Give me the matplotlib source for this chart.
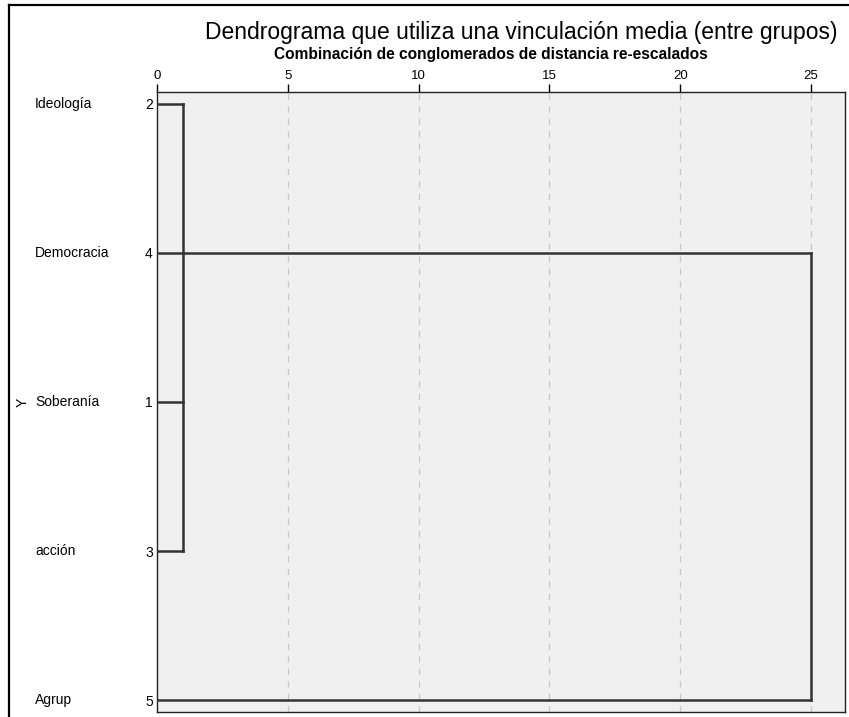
import matplotlib
matplotlib.use("Agg")
import matplotlib.pyplot as plt
from matplotlib.lines import Line2D

plt.rcParams['font.family'] = ['Liberation Sans', 'DejaVu Sans']

# rows from top to bottom
labels = ["Ideología", "Democracia", "Soberanía", "acción", "Agrup"]
case_numbers = [2, 4, 1, 3, 5]

# merges: children (leaf rows 0-4, merged nodes 5+), rescaled distance, row of new node
merge_children = [[0, 1, 2, 3], [5, 4]]
merge_heights = [1.0, 25.0]
merge_rows = [1, 1]

x_ticks = [0, 5, 10, 15, 20, 25]

fig = plt.figure(figsize=(8.49, 7.17), dpi=100)
ax = fig.add_axes([157 / 849, 1 - 712 / 717, (845 - 157) / 849, (712 - 92) / 717])
ax.set_facecolor('#f0f0f0')

# node positions (row, x start)
node_y = {i: float(i) for i in range(len(labels))}
node_x = {i: 0.0 for i in range(len(labels))}
line_kw = dict(color='#333333', lw=1.8, solid_capstyle='projecting', zorder=3)
for k, (children, h) in enumerate(zip(merge_children, merge_heights)):
    ys = []
    for c in children:
        ax.plot([node_x[c], h], [node_y[c], node_y[c]], **line_kw)
        ys.append(node_y[c])
    ax.plot([h, h], [min(ys), max(ys)], **line_kw)
    new_id = len(labels) + k
    node_y[new_id] = float(merge_rows[k])
    node_x[new_id] = h

# grid
for t in x_ticks[1:]:
    ax.axvline(t, color='#c8c8c8', lw=0.9, ls=(0, (5, 5)), zorder=1)

ax.set_xlim(0, 26.3)
ax.set_ylim(len(labels) - 1 + 0.08, -0.08)
ax.xaxis.tick_top()
ax.set_xticks(x_ticks)
ax.set_xticklabels([str(t) for t in x_ticks])
ax.tick_params(axis='x', direction='out', length=6, width=1, pad=1, labelsize=9.5, colors='black')
ax.set_yticks(range(len(labels)))
ax.set_yticklabels([str(n) for n in case_numbers])
ax.tick_params(axis='y', length=0, pad=3, labelsize=10)
for s in ax.spines.values():
    s.set_color('#222222')
    s.set_linewidth(1.0)

for i, name in enumerate(labels):
    ax.annotate(name, xy=(35 / 849, i), xycoords=('figure fraction', 'data'),
                ha='left', va='center', fontsize=10)

fig.text(23 / 849, 1 - 402 / 717, "Y", rotation=90, ha='center', va='center', fontsize=10)

fig.text(521 / 849, 1 - 33 / 717, "Dendrograma que utiliza una vinculación media (entre grupos)",
         ha='center', va='center', fontsize=16.5)
fig.text(491 / 849, 1 - 54 / 717, "Combinación de conglomerados de distancia re-escalados",
         ha='center', va='center', fontsize=11.2, fontweight='bold')

# outer frame
fig.add_artist(Line2D([9 / 849, 9 / 849], [0, 1 - 5 / 717], transform=fig.transFigure, color='black', lw=1.6))
fig.add_artist(Line2D([9 / 849, 1], [1 - 5 / 717, 1 - 5 / 717], transform=fig.transFigure, color='black', lw=1.6))

fig.savefig("out.png", dpi=100)
